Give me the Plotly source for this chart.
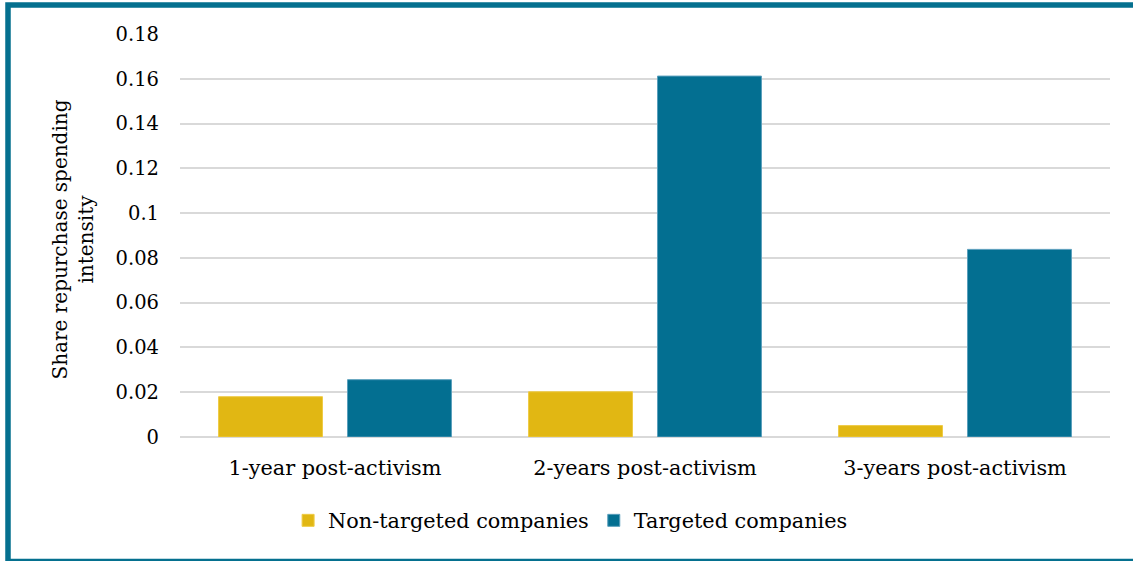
import plotly.graph_objects as go

categories = ["1-year post-activism", "2-years post-activism", "3-years post-activism"]
non_targeted = [0.018, 0.0202, 0.0051]
targeted = [0.0256, 0.1612, 0.0838]
y_ticks = [0, 0.02, 0.04, 0.06, 0.08, 0.1, 0.12, 0.14, 0.16, 0.18]
y_tick_text = ["0", "0.02", "0.04", "0.06", "0.08", "0.1", "0.12", "0.14", "0.16", "0.18"]

FONT = "DejaVu Serif"
YELLOW = "#E1B713"
TEAL = "#036F91"

fig = go.Figure()
fig.add_trace(go.Bar(x=categories, y=non_targeted, name="Non-targeted companies",
                     marker=dict(color=YELLOW, line=dict(color="#EFCB45", width=1))))
fig.add_trace(go.Bar(x=categories, y=targeted, name="Targeted companies",
                     marker=dict(color=TEAL, line=dict(color="#5A9FBC", width=1))))

fig.update_layout(
    width=1133, height=561,
    margin=dict(l=180, r=23, t=34, b=124),
    paper_bgcolor="white", plot_bgcolor="white",
    barmode="group", bargap=0.168, bargroupgap=0.194,
    font=dict(family=FONT, size=20, color="#000000"),
    showlegend=True,
    legend=dict(orientation="h", x=0.42, xanchor="center", y=-0.208, yanchor="middle",
                font=dict(family=FONT, size=20.8), itemwidth=30),
)
fig.update_xaxes(showgrid=False, showline=False, ticks="", ticklabelstandoff=16,
                 tickfont=dict(family=FONT, size=20.8))
fig.update_yaxes(range=[0, 0.18], tickvals=y_ticks, ticktext=y_tick_text,
                 showgrid=True, gridcolor="#D9D9D9", gridwidth=1.5,
                 zeroline=True, zerolinecolor="#D9D9D9", zerolinewidth=1.5,
                 showline=False, ticks="", ticklabelstandoff=20,
                 tickfont=dict(family=FONT, size=19.5))

fig.add_annotation(text="Share repurchase spending<br>intensity", textangle=-90,
                   xref="paper", yref="paper", x=(73 - 180) / 930, y=0.49,
                   xanchor="center", yanchor="middle", showarrow=False,
                   font=dict(family=FONT, size=20))

# teal frame (right edge falls outside the page, as in the original)
fig.add_shape(type="rect", xref="paper", yref="paper",
              x0=(8 - 180) / 930, x1=(1145 - 180) / 930,
              y0=(437 - 561.5) / 403, y1=(437 - 5) / 403,
              line=dict(color="#05708F", width=5.5), fillcolor="rgba(0,0,0,0)")

fig.write_html("out.html", config={"displayModeBar": False},
               post_script="document.body.style.margin='0';")
